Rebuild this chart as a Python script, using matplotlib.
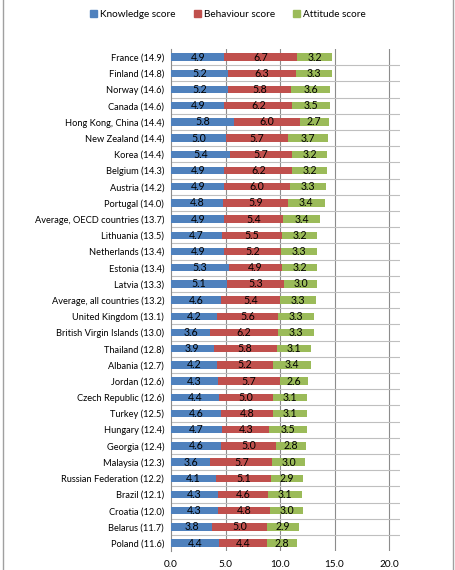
import matplotlib
matplotlib.use("Agg")
import matplotlib.pyplot as plt
from matplotlib.patches import Patch, Rectangle
import numpy as np

plt.rcParams['font.family'] = ['Lato', 'DejaVu Sans']

# Data, top to bottom as in the chart
countries = ["France", "Finland", "Norway", "Canada", "Hong Kong, China", "New Zealand",
             "Korea", "Belgium", "Austria", "Portugal", "Average, OECD countries",
             "Lithuania", "Netherlands", "Estonia", "Latvia", "Average, all countries",
             "United Kingdom", "British Virgin Islands", "Thailand", "Albania", "Jordan",
             "Czech Republic", "Turkey", "Hungary", "Georgia", "Malaysia",
             "Russian Federation", "Brazil", "Croatia", "Belarus", "Poland"]
totals = [14.9, 14.8, 14.6, 14.6, 14.4, 14.4, 14.4, 14.3, 14.2, 14.0, 13.7, 13.5, 13.4,
          13.4, 13.3, 13.2, 13.1, 13.0, 12.8, 12.7, 12.6, 12.6, 12.5, 12.4, 12.4, 12.3,
          12.2, 12.1, 12.0, 11.7, 11.6]
knowledge = [4.9, 5.2, 5.2, 4.9, 5.8, 5.0, 5.4, 4.9, 4.9, 4.8, 4.9, 4.7, 4.9, 5.3, 5.1,
             4.6, 4.2, 3.6, 3.9, 4.2, 4.3, 4.4, 4.6, 4.7, 4.6, 3.6, 4.1, 4.3, 4.3, 3.8, 4.4]
behaviour = [6.7, 6.3, 5.8, 6.2, 6.0, 5.7, 5.7, 6.2, 6.0, 5.9, 5.4, 5.5, 5.2, 4.9, 5.3,
             5.4, 5.6, 6.2, 5.8, 5.2, 5.7, 5.0, 4.8, 4.3, 5.0, 5.7, 5.1, 4.6, 4.8, 5.0, 4.4]
attitude = [3.2, 3.3, 3.6, 3.5, 2.7, 3.7, 3.2, 3.2, 3.3, 3.4, 3.4, 3.2, 3.3, 3.2, 3.0,
            3.3, 3.3, 3.3, 3.1, 3.4, 2.6, 3.1, 3.1, 3.5, 2.8, 3.0, 2.9, 3.1, 3.0, 2.9, 2.8]
x_ticks = [0, 5, 10, 15, 20]

series = [("Knowledge score", knowledge, "#4F81BD"),
          ("Behaviour score", behaviour, "#C0504D"),
          ("Attitude score", attitude, "#9BBB59")]

fig = plt.figure(figsize=(4.56, 5.70), dpi=100)
ax = fig.add_axes([0.375, 0.033, 0.502, 0.881])

n = len(countries)
y = np.arange(n)
left = np.zeros(n)
for name, vals, col in series:
    vals = np.array(vals)
    ax.barh(y, vals, left=left, height=0.45, color=col, zorder=3)
    for yi, l, v in zip(y, left, vals):
        ax.text(l + v / 2, yi, f"{v:.1f}", ha='center', va='center', fontsize=7.6, zorder=4)
    left += vals

ax.set_ylim(n - 0.5, -0.5)
ax.set_xlim(0, 21)
ax.set_yticks(y)
ax.set_yticklabels([f"{c} ({t:.1f})" for c, t in zip(countries, totals)], fontsize=6.7)
ax.set_xticks(x_ticks)
ax.set_xticklabels([f"{t:.1f}" for t in x_ticks], fontsize=7.2)
ax.tick_params(axis='y', length=0, pad=5)
ax.tick_params(axis='x', length=0, pad=6)

# gridlines: vertical at value ticks, horizontal between categories
for t in x_ticks[1:]:
    ax.axvline(t, color='#8c8c8c', lw=0.8, zorder=1)
for b in np.arange(0.5, n - 1, 1):
    ax.axhline(b, color='#bfbfbf', lw=0.8, zorder=1)
for s in ['top', 'right', 'bottom']:
    ax.spines[s].set_visible(False)
ax.spines['left'].set_color('#8c8c8c')
ax.spines['left'].set_linewidth(0.8)

handles = [Patch(color=c, label=nm) for nm, _, c in series]
fig.legend(handles=handles, loc='center', bbox_to_anchor=(0.5, 0.974), ncol=3,
           frameon=False, fontsize=7.2, handlelength=0.7, handleheight=0.7,
           handletextpad=0.3, columnspacing=1.8)

# chart area border
fig.patches.append(Rectangle((0.007, -0.01), 0.986, 1.02, transform=fig.transFigure,
                             fill=False, edgecolor='#a0a0a0', lw=1.0))

fig.savefig("out.png", dpi=100)
